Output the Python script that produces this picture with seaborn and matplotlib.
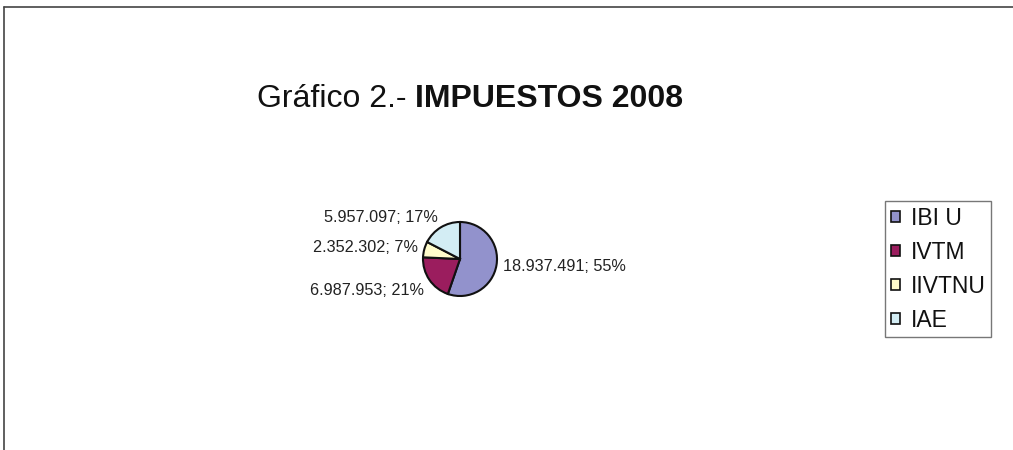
import matplotlib
matplotlib.use("Agg")
import matplotlib.pyplot as plt
from matplotlib.patches import Patch
from matplotlib.lines import Line2D
import numpy as np
import seaborn as sns

categories = ["IBI U", "IVTM", "IIVTNU", "IAE"]
values = [18937491, 6987953, 2352302, 5957097]
percents = [55, 21, 7, 17]
colors = ["#9292CC", "#9B1D5E", "#FFFCCB", "#D3EDF4"]

sns.set_theme(style="white")
plt.rcParams["font.family"] = ["Liberation Sans", "DejaVu Sans"]

W, H = 1013, 450
fig = plt.figure(figsize=(W / 100, H / 100), dpi=100)
ax = fig.add_axes([0, 0, 1, 1])

def fmt(v):
    return f"{v:,}".replace(",", ".")

labels = [f"{fmt(v)}; {p}%" for v, p in zip(values, percents)]

cx, cy = 460, H - 259
wedges, texts = ax.pie(values, labels=labels, colors=colors, startangle=90,
                       counterclock=False, center=(cx, cy), radius=37,
                       labeldistance=1.17,
                       wedgeprops=dict(edgecolor="#111111", linewidth=1.5),
                       textprops=dict(fontsize=11.7, color="#222222"))
for w, t in zip(wedges, texts):
    mid = np.deg2rad((w.theta1 + w.theta2) / 2)
    t.set_ha("left" if np.cos(mid) > 0 else "right")
    if np.sin(mid) < -0.5:
        t.set_va("top")
    elif np.sin(mid) > 0.8:
        t.set_va("baseline")
    else:
        t.set_va("center")
ax.set_xlim(0, W)
ax.set_ylim(0, H)
ax.set_aspect("equal")
ax.axis("off")

# title
t1 = fig.text(257 / W, 1 - 107 / H, "Gráfico 2.- ", fontsize=23, color="#111111",
              ha="left", va="baseline")
fig.canvas.draw()
bb = t1.get_window_extent()
fig.text(bb.x1 / W, 1 - 107 / H, "IMPUESTOS 2008", fontsize=23,
         fontweight="bold", color="#111111", ha="left", va="baseline")

handles = [Patch(facecolor=c, edgecolor="#111111", linewidth=1.2) for c in colors]
leg = fig.legend(handles, categories, loc="upper left",
                 bbox_to_anchor=(885 / W, 1 - 201 / H),
                 frameon=True, fancybox=False, edgecolor="#555555",
                 fontsize=16.5, handlelength=0.42, handleheight=0.42,
                 handletextpad=0.45, labelspacing=0.48, borderpad=0.25,
                 borderaxespad=0)
leg.get_frame().set_linewidth(1.0)
for txt in leg.get_texts():
    txt.set_color("#111111")

# outer frame lines (cropped chart border)
fig.add_artist(Line2D([3.5 / W, 1], [1 - 7 / H, 1 - 7 / H], transform=fig.transFigure,
                      color="#444444", linewidth=1.2))
fig.add_artist(Line2D([3.5 / W, 3.5 / W], [0, 1 - 7 / H], transform=fig.transFigure,
                      color="#444444", linewidth=1.2))

fig.savefig("out.png", dpi=100)
